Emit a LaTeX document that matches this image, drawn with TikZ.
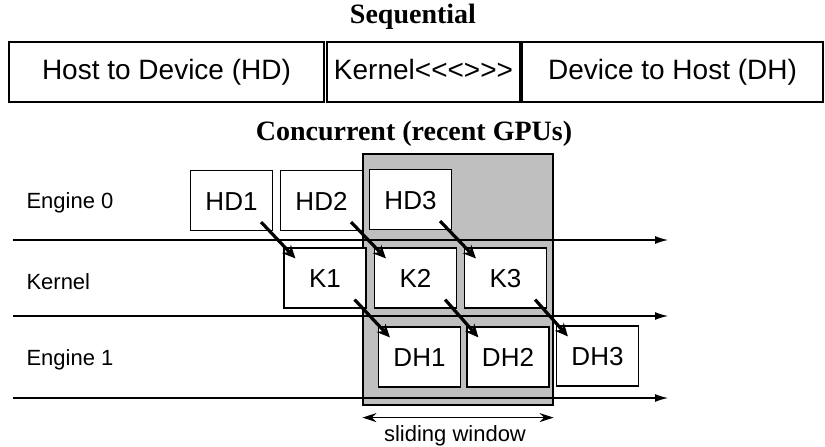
\documentclass[tikz,border=0pt]{standalone}
\usepackage{fontspec}
\setmainfont{Liberation Serif}
\newfontfamily\arialf{Liberation Sans}
\usepackage{tikz}
\usetikzlibrary{arrows.meta}

\tikzset{
	box/.style={draw, fill=white, line width=1.2pt, inner sep=0pt,
		minimum height=60pt, text height=20pt, text depth=5pt,
		font=\arialf\fontsize{28}{30}\selectfont},
	job/.style={box, minimum width=82pt, text height=19pt, text depth=0pt,
		font=\arialf\fontsize{26}{28}\selectfont},
	lane/.style={line width=1.2pt, -{Latex[length=13pt,width=8pt]}},
	flow/.style={line width=3.2pt, -{Stealth[length=13pt,width=12pt]}},
	title/.style={font=\bfseries\fontsize{28}{30}\selectfont},
	tag/.style={anchor=west, font=\arialf\fontsize{22}{24}\selectfont}
}

\begin{document}
\begin{tikzpicture}[x=1pt,y=-1pt]
				\useasboundingbox (0,0) rectangle (825,447);
				
				% sequential
				\node[title] (seq) at (413,17) {Sequential};
				\node[box, minimum width=315pt] (hd) at (166.5,72) {Host to Device (HD)};
				\node[box, minimum width=193pt] (kern) at (423.5,72) {Kernel<\kern0pt<\kern0pt<\kern0pt>\kern0pt>\kern0pt>};
				\node[box, minimum width=301pt] (dh) at (672.5,72) {Device to Host (DH)};
				
				% concurrent
				\node[title] (conc) at (414,134) {Concurrent (recent GPUs)};
				\node[draw, fill=black!25, line width=1.2pt, minimum width=190pt,
					minimum height=251pt] (win) at (458,279.5) {};
				
				\foreach \i/\y in
				{0/240, 1/316, 2/398}{
					\coordinate(L\i) at (13,\y);
					\coordinate(R\i) at (668,\y);
					\draw[lane] (L\i)--(R\i);
				}
				\foreach \n/\t/\y in
				{eng0/Engine 0/203, kernel/Kernel/282, eng1/Engine 1/360}{
					\node[tag] (\n) at (23,\y) {\t};
				}
				
				\foreach \n/\x/\y in
				{HD1/231.5/200.5, HD2/321.5/200.5, HD3/410.5/199.5,
				 K1/325/278, K2/415.5/278, K3/505.5/278,
				 DH1/419.5/357, DH2/508/357, DH3/597.5/356}{
					\node[job] (\n) at (\x,\y) {\n};
				}
				
				\foreach \a/\b in 
				{HD1/K1,HD2/K2,HD3/K3,K1/DH1,K2/DH2,K3/DH3}{
					\draw[flow] ([shift={(-12pt,9pt)}]\a.south east)--([shift={(12pt,-11pt)}]\b.north west);
				}
				
				% sliding window
				\coordinate(WL) at ([yshift=-12pt]win.south west);
				\coordinate(WR) at ([yshift=-12pt]win.south east);
				\draw[line width=1.2pt, {Stealth[length=14pt,width=9pt]}-{Stealth[length=14pt,width=9pt]}] (WL)--(WR);
				\node[font=\arialf\fontsize{22}{24}\selectfont] (slide) at (455,436) {sliding window};
			\end{tikzpicture}
\end{document}
